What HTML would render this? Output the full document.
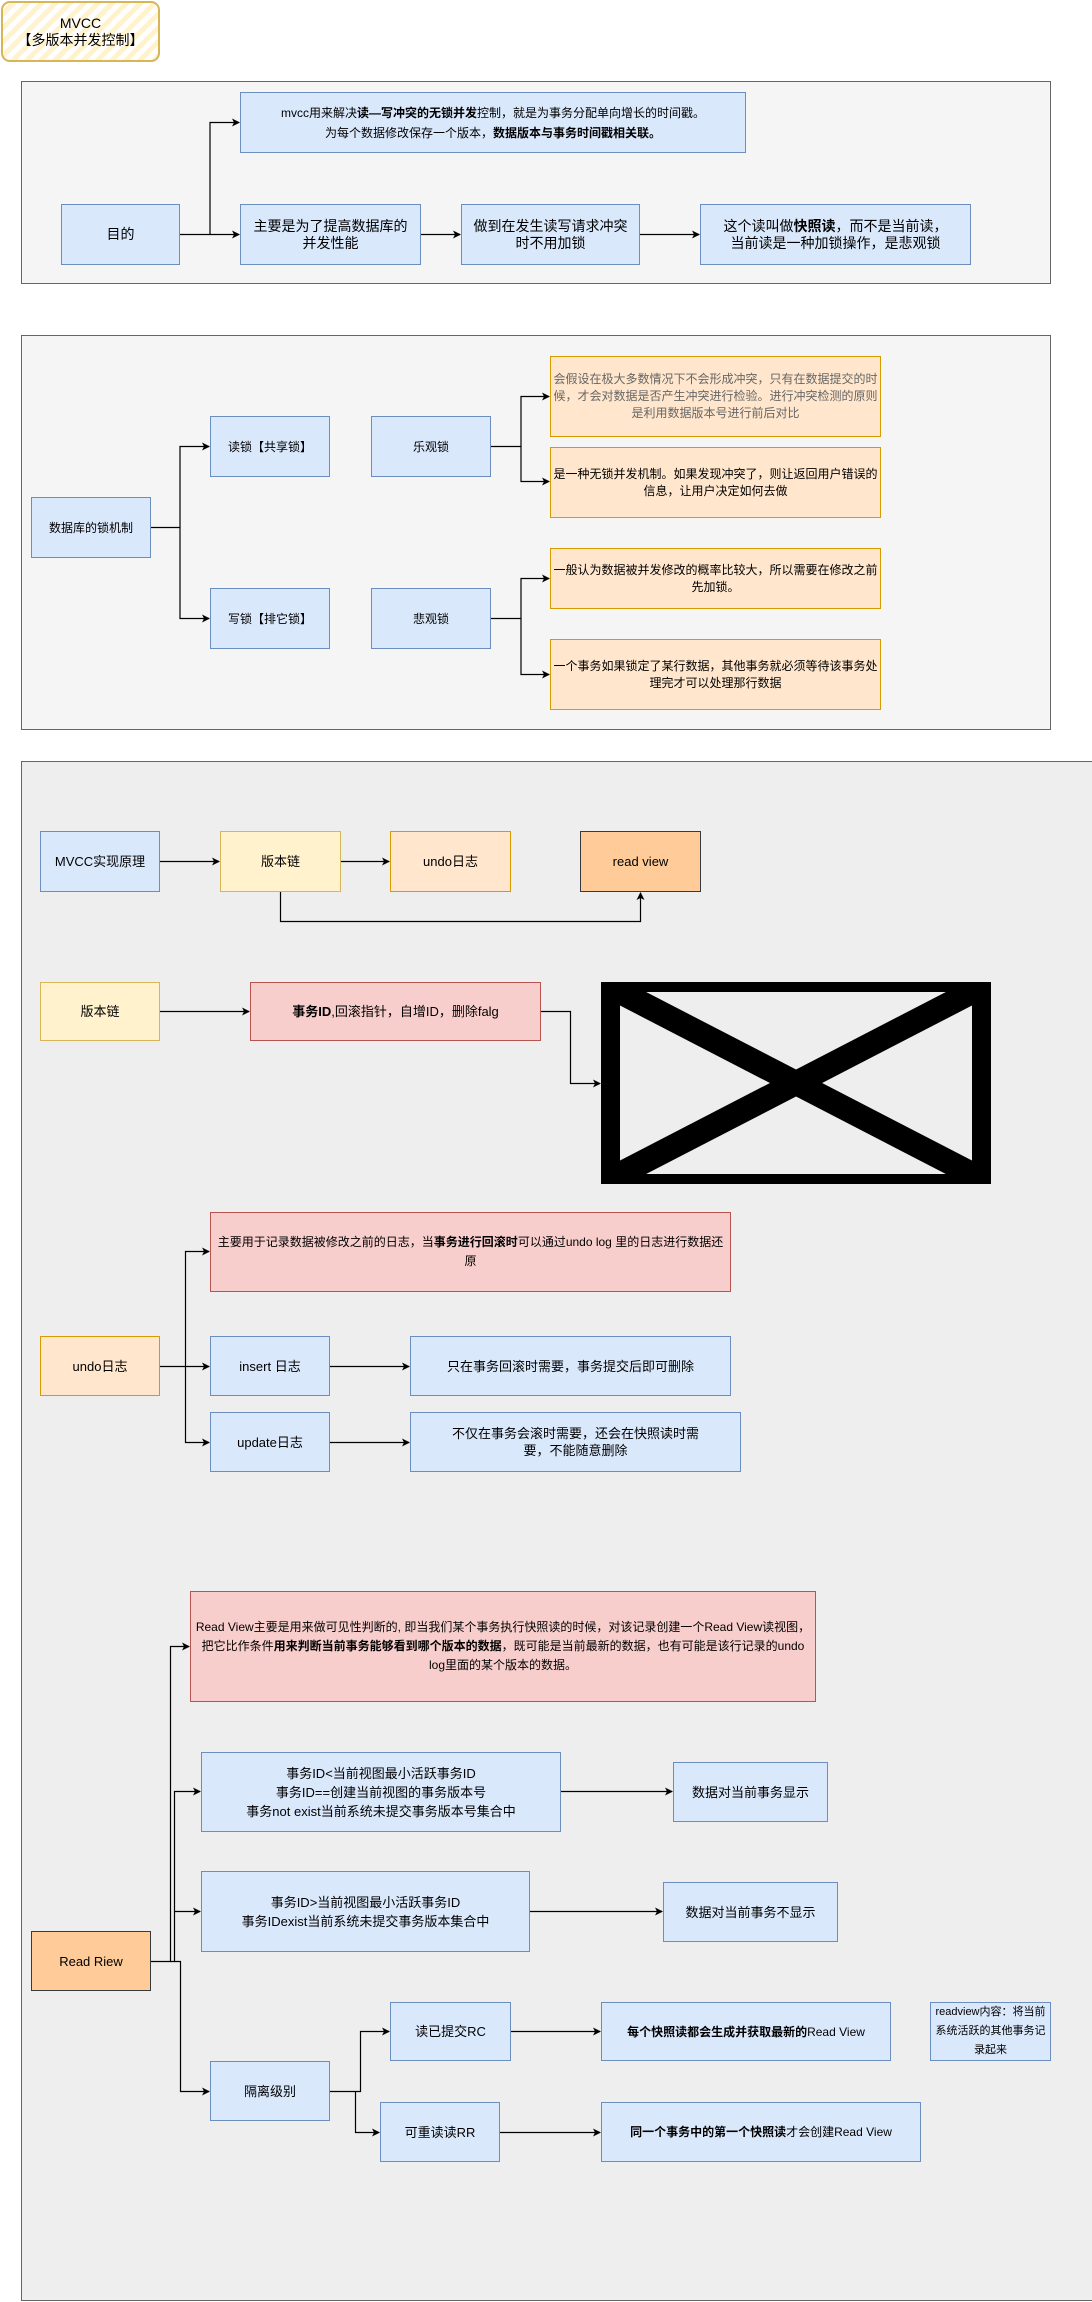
<!DOCTYPE html>
<html><head><meta charset="utf-8">
<style>
body{margin:0;width:1092px;height:2302px;position:relative;background:#fff;font-family:"Liberation Sans","Noto Sans CJK SC",sans-serif;color:#000;overflow:hidden}
.b{position:absolute;box-sizing:border-box;display:flex;align-items:center;justify-content:center;text-align:center;font-size:13px;line-height:17px;border:1px solid;padding:0 2px}
.b>span{display:block}
.bl{background:#dae8fc;border-color:#6c8ebf}
.or{background:#ffe6cc;border-color:#d79b00}
.ye{background:#fff2cc;border-color:#d6b656}
.pk{background:#f8cecc;border-color:#b85450}
.rv{background:#ffcc99;border-color:#36393d}
.c{position:absolute;box-sizing:border-box;border:1px solid #666}
.s{font-size:11px;line-height:16px}
svg{position:absolute;left:0;top:0}
</style></head><body>
<div class="b" style="left:1px;top:1px;width:159px;height:61px;border:2px solid #d6b656;border-radius:9px;background:repeating-linear-gradient(-45deg,#fff2cc 0 5px,#fff 5px 10px);font-size:14px"><span>MVCC<br>【多版本并发控制】</span></div>

<div class="c" style="left:21px;top:81px;width:1030px;height:203px;background:#f5f5f5"></div>
<div class="c" style="left:21px;top:335px;width:1030px;height:395px;background:#f5f5f5"></div>
<div class="c" style="left:21px;top:761px;width:1072px;height:1540px;background:#eeeeee"></div>

<div class="b bl s" style="left:240px;top:92px;width:506px;height:61px;font-size:12px;line-height:20px"><span>mvcc用来解决<b>读—写冲突的无锁并发</b>控制，就是为事务分配单向增长的时间戳。<br>为每个数据修改保存一个版本，<b>数据版本与事务时间戳相关联。</b></span></div>
<div class="b bl" style="left:61px;top:204px;width:119px;height:61px;font-size:14px"><span>目的</span></div>
<div class="b bl" style="left:240px;top:204px;width:181px;height:61px;font-size:14px"><span>主要是为了提高数据库的<br>并发性能</span></div>
<div class="b bl" style="left:461px;top:204px;width:179px;height:61px;font-size:14px"><span>做到在发生读写请求冲突<br>时不用加锁</span></div>
<div class="b bl" style="left:700px;top:204px;width:271px;height:61px;font-size:14px"><span>这个读叫做<b>快照读</b>，而不是当前读，<br>当前读是一种加锁操作，是悲观锁</span></div>

<div class="b bl s" style="left:31px;top:497px;width:120px;height:61px;font-size:12px"><span>数据库的锁机制</span></div>
<div class="b bl s" style="left:210px;top:416px;width:120px;height:61px;font-size:12px"><span>读锁【共享锁】</span></div>
<div class="b bl s" style="left:210px;top:588px;width:120px;height:61px;font-size:12px"><span>写锁【排它锁】</span></div>
<div class="b bl s" style="left:371px;top:416px;width:120px;height:61px;font-size:12px"><span>乐观锁</span></div>
<div class="b bl s" style="left:371px;top:588px;width:120px;height:61px;font-size:12px"><span>悲观锁</span></div>
<div class="b or s" style="left:550px;top:356px;width:331px;height:81px;color:#666;font-size:12px;line-height:17px"><span>会假设在极大多数情况下不会形成冲突，只有在数据提交的时候，才会对数据是否产生冲突进行检验。进行冲突检测的原则是利用数据版本号进行前后对比</span></div>
<div class="b or s" style="left:550px;top:447px;width:331px;height:71px;font-size:12px;line-height:17px"><span>是一种无锁并发机制。如果发现冲突了，则让返回用户错误的信息，让用户决定如何去做</span></div>
<div class="b or s" style="left:550px;top:548px;width:331px;height:61px;font-size:12px;line-height:17px"><span>一般认为数据被并发修改的概率比较大，所以需要在修改之前先加锁。</span></div>
<div class="b or s" style="left:550px;top:639px;width:331px;height:71px;font-size:12px;line-height:17px"><span>一个事务如果锁定了某行数据，其他事务就必须等待该事务处理完才可以处理那行数据</span></div>

<div class="b bl" style="left:40px;top:831px;width:120px;height:61px"><span>MVCC实现原理</span></div>
<div class="b ye" style="left:220px;top:831px;width:121px;height:61px"><span>版本链</span></div>
<div class="b or" style="left:390px;top:831px;width:121px;height:61px"><span>undo日志</span></div>
<div class="b rv" style="left:580px;top:831px;width:121px;height:61px"><span>read view</span></div>

<div class="b ye" style="left:40px;top:982px;width:120px;height:59px"><span>版本链</span></div>
<div class="b pk" style="left:250px;top:982px;width:291px;height:59px"><span><b>事务ID</b>,回滚指针，自增ID，删除falg</span></div>
<svg width="1092" height="2302" viewBox="0 0 1092 2302">
<defs><marker id="a" markerWidth="8" markerHeight="8" refX="7" refY="4" orient="auto" markerUnits="userSpaceOnUse"><path d="M0,0 L8,4 L0,8 L2,4 z" fill="#000"/></marker>
<clipPath id="cp"><rect x="620" y="992" width="352" height="182"/></clipPath></defs>
<g fill="none" stroke="#000" stroke-width="1.2">
<path d="M180 234.5 H239" marker-end="url(#a)"/>
<path d="M210 234.5 V122.5 H239" marker-end="url(#a)"/>
<path d="M421 234.5 H460" marker-end="url(#a)"/>
<path d="M640 234.5 H699" marker-end="url(#a)"/>
<path d="M151 527.5 H180 V446.5 H209" marker-end="url(#a)"/>
<path d="M180 527.5 V618.5 H209" marker-end="url(#a)"/>
<path d="M491 446.5 H521 V396.5 H549" marker-end="url(#a)"/>
<path d="M521 446.5 V481.5 H549" marker-end="url(#a)"/>
<path d="M491 618.5 H521 V578.5 H549" marker-end="url(#a)"/>
<path d="M521 618.5 V674.5 H549" marker-end="url(#a)"/>
<path d="M160 861.5 H219" marker-end="url(#a)"/>
<path d="M341 861.5 H389" marker-end="url(#a)"/>
<path d="M280.5 892 V921.5 H640.5 V893" marker-end="url(#a)"/>
<path d="M160 1011.5 H249" marker-end="url(#a)"/>
<path d="M541 1011.5 H570.5 V1083.5 H600" marker-end="url(#a)"/>
<path d="M160 1366.5 H209" marker-end="url(#a)"/>
<path d="M185.5 1366.5 V1251.5 H209" marker-end="url(#a)"/>
<path d="M185.5 1366.5 V1442.5 H209" marker-end="url(#a)"/>
<path d="M330 1366.5 H409" marker-end="url(#a)"/>
<path d="M330 1442.5 H409" marker-end="url(#a)"/>
<path d="M151 1961.5 H170.5 V1646.5 H189" marker-end="url(#a)"/>
<path d="M170.5 1961.5 H174.5 V1791.5 H200" marker-end="url(#a)"/>
<path d="M174.5 1911.5 H200" marker-end="url(#a)"/>
<path d="M174.5 1961.5 H180.5 V2091.5 H209" marker-end="url(#a)"/>
<path d="M561 1791.5 H672" marker-end="url(#a)"/>
<path d="M530 1911.5 H662" marker-end="url(#a)"/>
<path d="M330 2091.5 H360.5 V2031.5 H389" marker-end="url(#a)"/>
<path d="M355.5 2091.5 V2132.5 H379" marker-end="url(#a)"/>
<path d="M511 2031.5 H600" marker-end="url(#a)"/>
<path d="M500 2132.5 H600" marker-end="url(#a)"/>
</g>
<rect x="601" y="982" width="390" height="202" fill="#000"/>
<rect x="620" y="992" width="352" height="182" fill="#eee"/>
<g clip-path="url(#cp)"><path d="M620 992 L972 1174 M972 992 L620 1174" stroke="#000" stroke-width="24"/></g>
</svg>

<div class="b pk s" style="left:210px;top:1212px;width:521px;height:80px;font-size:12px;line-height:19px"><span>主要用于记录数据被修改之前的日志，当<b>事务进行回滚时</b>可以通过undo log 里的日志进行数据还原</span></div>
<div class="b or" style="left:40px;top:1336px;width:120px;height:60px"><span>undo日志</span></div>
<div class="b bl" style="left:210px;top:1336px;width:120px;height:60px"><span>insert 日志</span></div>
<div class="b bl" style="left:410px;top:1336px;width:321px;height:60px"><span>只在事务回滚时需要，事务提交后即可删除</span></div>
<div class="b bl" style="left:210px;top:1412px;width:120px;height:60px"><span>update日志</span></div>
<div class="b bl" style="left:410px;top:1412px;width:331px;height:60px"><span>不仅在事务会滚时需要，还会在快照读时需<br>要，不能随意删除</span></div>

<div class="b pk s" style="left:190px;top:1591px;width:626px;height:111px;line-height:19px;font-size:12px"><span>Read View主要是用来做可见性判断的, 即当我们某个事务执行快照读的时候，对该记录创建一个Read View读视图，把它比作条件<b>用来判断当前事务能够看到哪个版本的数据</b>，既可能是当前最新的数据，也有可能是该行记录的undo log里面的某个版本的数据。</span></div>
<div class="b bl" style="left:201px;top:1752px;width:360px;height:80px;line-height:19px"><span>事务ID&lt;当前视图最小活跃事务ID<br>事务ID==创建当前视图的事务版本号<br>事务not exist当前系统未提交事务版本号集合中</span></div>
<div class="b bl" style="left:673px;top:1762px;width:155px;height:60px"><span>数据对当前事务显示</span></div>
<div class="b bl" style="left:201px;top:1871px;width:329px;height:81px;line-height:19px"><span>事务ID&gt;当前视图最小活跃事务ID<br>事务IDexist当前系统未提交事务版本集合中</span></div>
<div class="b bl" style="left:663px;top:1882px;width:175px;height:60px"><span>数据对当前事务不显示</span></div>
<div class="b rv" style="left:31px;top:1931px;width:120px;height:60px"><span>Read Riew</span></div>
<div class="b bl" style="left:210px;top:2061px;width:120px;height:60px"><span>隔离级别</span></div>
<div class="b bl" style="left:390px;top:2002px;width:121px;height:59px"><span>读已提交RC</span></div>
<div class="b bl" style="left:380px;top:2102px;width:120px;height:60px"><span>可重读读RR</span></div>
<div class="b bl s" style="left:601px;top:2002px;width:290px;height:59px;font-size:12px"><span><b>每个快照读都会生成并获取最新的</b>Read View</span></div>
<div class="b bl s" style="left:601px;top:2102px;width:320px;height:60px;font-size:12px"><span><b>同一个事务中的第一个快照读</b>才会创建Read View</span></div>
<div class="b bl s" style="left:930px;top:2002px;width:121px;height:59px;line-height:19px"><span>readview内容：将当前系统活跃的其他事务记录起来</span></div>
</body></html>
